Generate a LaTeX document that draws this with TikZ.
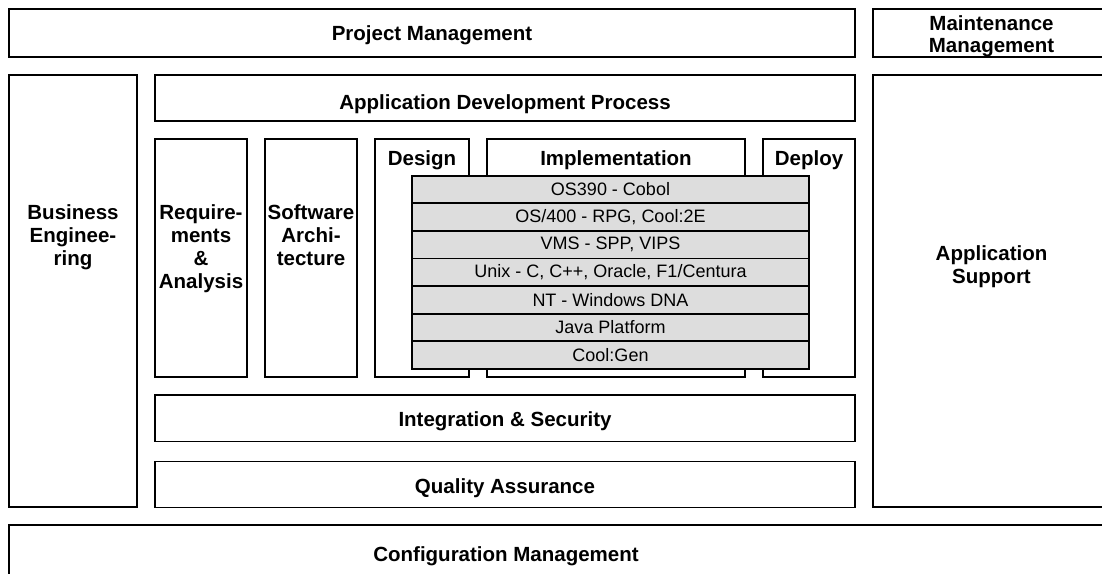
\documentclass[tikz,border=0pt]{standalone}
\usepackage{fontspec}
\setmainfont{Liberation Sans}
\usetikzlibrary{positioning}
\definecolor{rowgray}{RGB}{221,221,221}

\begin{document}
\begin{tikzpicture}[x=1pt, y=-1pt, line width=1.8pt]
    \tikzstyle{block} = [draw, rectangle, anchor=north west, outer sep=0pt,
    inner sep=0pt]
    \tikzstyle{title} = [font=\fontsize{20.5}{23}\selectfont\bfseries,
    align=center, inner sep=0pt]
    \tikzstyle{platform} = [block, fill=rowgray, minimum width=397pt,
    minimum height=27.6pt, font=\fontsize{18}{20}\selectfont]
    \useasboundingbox (0,0) rectangle (1102,573);
    \clip (0,0) rectangle (1102,573);
    % outer frame
    \node [block, minimum width=846pt, minimum height=48pt] at (9,9) (projmgmt) {};
    \node [block, minimum width=237pt, minimum height=48pt] at (873,9) (maintmgmt) {};
    \node [block, minimum width=128pt, minimum height=432pt] at (9,75) (busieng) {};
    \node [block, minimum width=237pt, minimum height=432pt] at (873,75) (appsupp) {};
    \node [block, minimum width=1101pt, minimum height=70pt] at (9,525) (confmgmt) {};
    % application development
    \node [block, minimum width=700pt, minimum height=46pt] at (155,75) (appdev) {};
    \node [block, minimum width=92pt, minimum height=238pt] at (155,139) (reqs) {};
    \node [block, minimum width=92pt, minimum height=238pt] at (265,139) (softarch) {};
    \node [block, minimum width=94pt, minimum height=238pt] at (375,139) (design) {};
    \node [block, minimum width=258pt, minimum height=238pt] at (487,139) (impl) {};
    \node [block, minimum width=92pt, minimum height=238pt] at (763,139) (deploy) {};
    \node [block, minimum width=700pt, minimum height=46.5pt] at (155,395) (integ) {};
    \node [block, minimum width=700pt, minimum height=46pt] at (155,461.5) (qualass) {};
    % platforms
    \foreach \name [count=\i from 0] in {{OS390 - Cobol}, {OS/400 - RPG, Cool:2E},
        {VMS - SPP, VIPS}, {Unix - C, C++, Oracle, F1/Centura},
        {NT - Windows DNA}, {Java Platform}, {Cool:Gen}}
        \node [platform] at (412,175.7+\i*27.6) (plat\i) {\name};
    % labels
    \node [title, yshift=-2pt] at (projmgmt.center) (projmgmtlbl) {Project Management};
    \node [title, font=\fontsize{20.5}{21.5}\selectfont\bfseries,
        below=6pt of maintmgmt.north] (maintmgmtlbl) {Maintenance\\Management};
    \node [title, below=129pt of busieng.north] (busienglbl) {Business\\Enginee-\\ring};
    \node [title, below=170pt of appsupp.north] (appsupplbl) {Application\\Support};
    \node [title, yshift=-6pt] at (appdev.center) (appdevlbl) {Application Development Process};
    \node [title, below=65pt of reqs.north] (reqslbl) {Require-\\ments\\\&\\Analysis};
    \node [title, below=65pt of softarch.north] (softarchlbl) {Software\\Archi-\\tecture};
    \node [title, below=11pt of design.north] (designlbl) {Design};
    \node [title, below=11pt of impl.north] (impllbl) {Implementation};
    \node [title, below=11pt of deploy.north] (deploylbl) {Deploy};
    \node [title, yshift=-3pt] at (integ.center) (integlbl) {Integration \& Security};
    \node [title, yshift=-4pt] at (qualass.center) (qualasslbl) {Quality Assurance};
    \node [title] at (506,556) (confmgmtlbl) {Configuration Management};
\end{tikzpicture}
\end{document}
